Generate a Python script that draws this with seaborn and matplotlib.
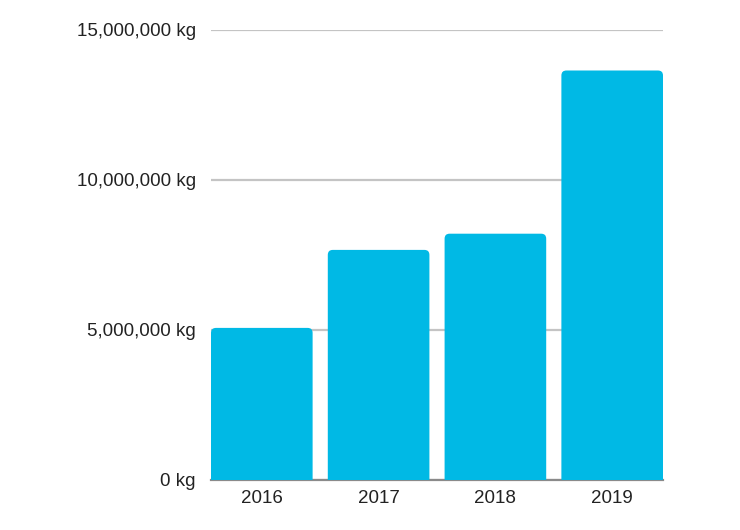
import matplotlib
matplotlib.use("Agg")
import matplotlib.pyplot as plt
from matplotlib.patches import FancyBboxPatch
from matplotlib.ticker import FuncFormatter
import seaborn as sns
import pandas as pd

years = ["2016", "2017", "2018", "2019"]
weights_kg = [5070000, 7670000, 8210000, 13650000]
y_ticks = [0, 5000000, 10000000, 15000000]

bar_color = "#00B9E5"
grid_color = "#C4C4C4"
bar_width = 0.87

sns.set_theme(style="white")
plt.rcParams["font.family"] = ["Liberation Sans", "DejaVu Sans"]

df = pd.DataFrame({"year": years, "kg": weights_kg})

fig = plt.figure(figsize=(7.4, 5.3), dpi=100)
ax = fig.add_axes([211 / 740, 1 - 480 / 530, (663 - 211) / 740, 450 / 530])

sns.barplot(data=df, x="year", y="kg", color=bar_color, saturation=1,
            width=bar_width, ax=ax, zorder=3)

ax.set_xlim(-bar_width / 2, len(years) - 1 + bar_width / 2)
ax.set_ylim(0, y_ticks[-1])
ax.set_yticks(y_ticks)
ax.yaxis.set_major_formatter(FuncFormatter(lambda v, p: f"{int(v):,} kg"))
ax.set_xlabel("")
ax.set_ylabel("")

ax.grid(axis="y", color=grid_color, linewidth=1.6, zorder=0)
ax.grid(axis="x", visible=False)
ax.set_axisbelow(True)
for s in ["top", "right", "left"]:
    ax.spines[s].set_visible(False)
ax.spines["bottom"].set_color("#8A8A8A")
ax.spines["bottom"].set_linewidth(1.6)
ax.spines["bottom"].set_zorder(2)

ax.tick_params(axis="y", length=0, pad=11, labelsize=13.5, labelcolor="#222222")
ax.tick_params(axis="x", length=0, pad=7, labelsize=13.5, labelcolor="#222222")

# rounded top corners: replace bars with rounded boxes, based on the bar geometry
radius_px = 5
px_per_x = ax.transData.transform((1, 0))[0] - ax.transData.transform((0, 0))[0]
px_per_y = ax.transData.transform((0, 1e6))[1] - ax.transData.transform((0, 0))[1]
px_per_y /= 1e6
r_x = radius_px / px_per_x
aspect = (radius_px / px_per_y) / r_x
for p in list(ax.patches):
    x0, w, h = p.get_x(), p.get_width(), p.get_height()
    extra = 2 * radius_px / px_per_y
    fb = FancyBboxPatch((x0, -extra), w, h + extra,
                        boxstyle=f"round,pad=0,rounding_size={r_x}",
                        mutation_aspect=aspect,
                        facecolor=bar_color, edgecolor="none", zorder=3)
    p.remove()
    ax.add_patch(fb)

fig.savefig("out.png", dpi=100)
